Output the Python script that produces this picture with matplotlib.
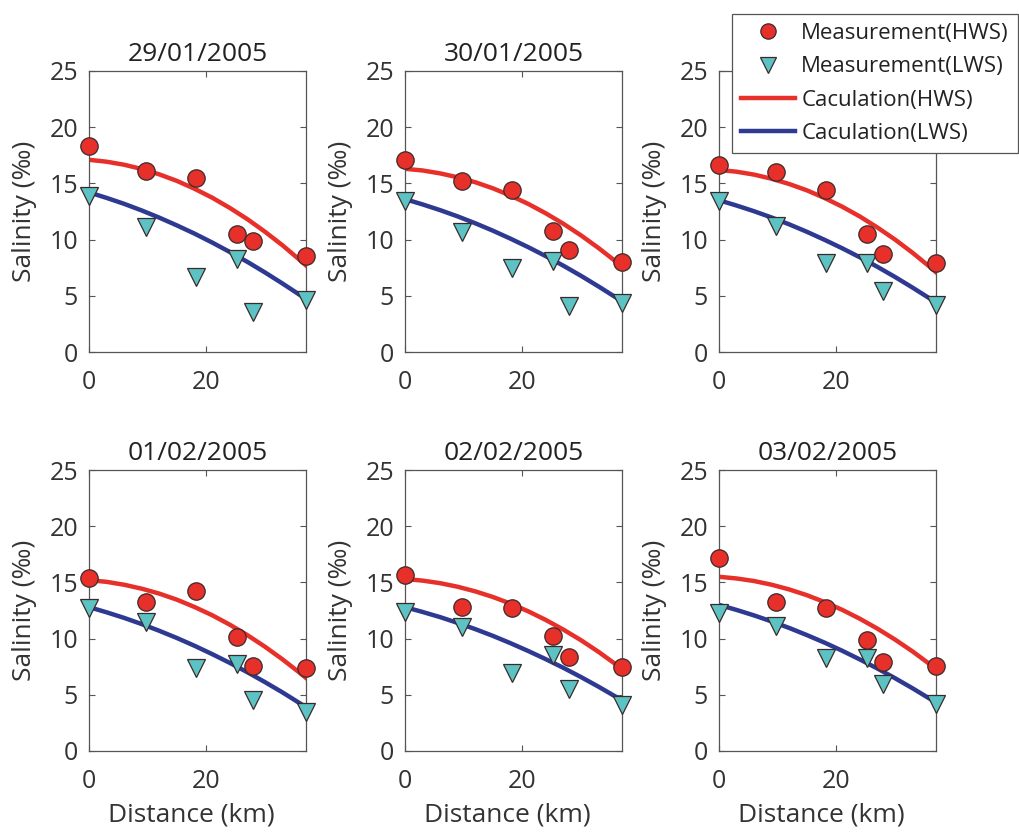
import matplotlib.pyplot as plt
from matplotlib.lines import Line2D

plt.rcParams['font.family'] = ['Open Sans', 'DejaVu Sans']

# third title (31/01/2005) sits under the legend in the original, so it is left out
dates = ["29/01/2005", "30/01/2005", "",
         "01/02/2005", "02/02/2005", "03/02/2005"]

# measurement stations (km)
station_km = [0, 9.8, 18.3, 25.2, 27.9, 37]

hws_meas = [
    [18.3, 16.1, 15.5, 10.5, 9.9, 8.5],
    [17.1, 15.2, 14.4, 10.8, 9.1, 8.0],
    [16.6, 16.0, 14.4, 10.5, 8.7, 7.9],
    [15.4, 13.3, 14.2, 10.1, 7.6, 7.4],
    [15.7, 12.8, 12.7, 10.2, 8.4, 7.5],
    [17.2, 13.3, 12.7, 9.9, 7.9, 7.6],
]
lws_meas = [
    [13.9, 11.1, 6.7, 8.3, 3.6, 4.6],
    [13.4, 10.7, 7.5, 8.1, 4.1, 4.4],
    [13.4, 11.2, 7.9, 7.9, 5.4, 4.2],
    [12.7, 11.5, 7.4, 7.7, 4.5, 3.5],
    [12.4, 11.0, 6.9, 8.5, 5.5, 4.1],
    [12.3, 11.1, 8.3, 8.3, 6.0, 4.2],
]

# calculated curves
calc_km = [0, 3, 6, 9, 12, 15, 18, 21, 24, 27, 30, 33, 36, 37]
hws_calc = [
    [17.1, 16.93, 16.66, 16.28, 15.80, 15.22, 14.52, 13.73, 12.82, 11.82, 10.70, 9.49, 8.16, 7.7],
    [16.3, 16.15, 15.89, 15.54, 15.10, 14.56, 13.91, 13.18, 12.34, 11.41, 10.38, 9.25, 8.03, 7.6],
    [16.2, 16.04, 15.78, 15.41, 14.94, 14.38, 13.70, 12.93, 12.06, 11.08, 10.01, 8.83, 7.55, 7.1],
    [15.2, 15.05, 14.79, 14.44, 14.00, 13.46, 12.81, 12.08, 11.24, 10.31, 9.28, 8.15, 6.93, 6.5],
    [15.3, 15.16, 14.93, 14.61, 14.20, 13.70, 13.11, 12.43, 11.66, 10.80, 9.86, 8.82, 7.69, 7.3],
    [15.5, 15.35, 15.12, 14.79, 14.37, 13.86, 13.25, 12.56, 11.77, 10.89, 9.92, 8.86, 7.70, 7.3],
]
lws_calc = [
    [14.2, 13.71, 13.18, 12.59, 11.95, 11.26, 10.53, 9.74, 8.90, 8.02, 7.08, 6.09, 5.06, 4.7],
    [13.6, 13.13, 12.62, 12.06, 11.45, 10.79, 10.08, 9.33, 8.53, 7.68, 6.78, 5.83, 4.84, 4.5],
    [13.5, 13.03, 12.52, 11.96, 11.35, 10.69, 9.98, 9.23, 8.43, 7.58, 6.68, 5.73, 4.74, 4.4],
    [12.8, 12.34, 11.84, 11.29, 10.69, 10.05, 9.36, 8.62, 7.84, 7.01, 6.13, 5.21, 4.23, 3.9],
    [12.8, 12.37, 11.91, 11.39, 10.84, 10.24, 9.59, 8.90, 8.17, 7.40, 6.58, 5.72, 4.81, 4.5],
    [13.0, 12.55, 12.06, 11.52, 10.94, 10.31, 9.64, 8.92, 8.15, 7.34, 6.48, 5.58, 4.63, 4.3],
]

RED = "#e8302a"
BLUE = "#2e3a92"
CYAN = "#5cc2c4"
EDGE = "#3a2a2a"
GREY = "#555555"

fig = plt.figure(figsize=(10.2, 8.33), dpi=100)

lefts = [89, 405, 719]
tops = [71, 470]
W, H = 217, 281

for i, date in enumerate(dates):
    r, c = divmod(i, 3)
    ax = fig.add_axes([lefts[c] / 1020, 1 - (tops[r] + H) / 833, W / 1020, H / 833])
    ax.plot(calc_km, hws_calc[i], color=RED, lw=3.2, zorder=2)
    ax.plot(calc_km, lws_calc[i], color=BLUE, lw=3.2, zorder=2)
    ax.plot(station_km, lws_meas[i], 'v', ms=13, mfc=CYAN, mec=EDGE, mew=0.9,
            clip_on=False, zorder=3)
    ax.plot(station_km, hws_meas[i], 'o', ms=12.5, mfc=RED, mec=EDGE, mew=0.9,
            clip_on=False, zorder=4)
    ax.set_xlim(0, 37)
    ax.set_ylim(0, 25)
    ax.set_xticks([0, 20])
    ax.set_yticks([0, 5, 10, 15, 20, 25])
    ax.tick_params(direction='in', top=True, right=True, length=4, width=0.8,
                   color=GREY, labelsize=18, labelcolor="#333333")
    ax.tick_params(axis='x', pad=13)
    ax.tick_params(axis='y', pad=8)
    for s in ax.spines.values():
        s.set_color(GREY)
        s.set_linewidth(0.9)
    if date:
        ax.set_title(date, fontsize=19, pad=7, color="#222222")
    ax.set_ylabel("Salinity (‰)", fontsize=19, color="#333333")
    ax.yaxis.set_label_coords(-0.24, 0.5)
    if r == 1:
        ax.set_xlabel("Distance (km)", fontsize=19, color="#333333")
        ax.xaxis.set_label_coords(0.47, -0.185)

handles = [
    Line2D([], [], ls='none', marker='o', ms=11, mfc=RED, mec=EDGE, mew=0.9),
    Line2D([], [], ls='none', marker='v', ms=11.5, mfc=CYAN, mec=EDGE, mew=0.9),
    Line2D([], [], color=RED, lw=3.2),
    Line2D([], [], color=BLUE, lw=3.2),
]
labels = ["Measurement(HWS)", "Measurement(LWS)", "Caculation(HWS)", "Caculation(LWS)"]
leg = fig.legend(handles, labels, loc='upper right', bbox_to_anchor=(1.0, 1 - 12 / 833),
                 fontsize=16, frameon=True, fancybox=False, framealpha=1,
                 edgecolor=GREY, handlelength=2.4, handletextpad=0.3,
                 labelspacing=0.55, borderpad=0.4, borderaxespad=0.1)
leg.get_frame().set_linewidth(0.9)
for t in leg.get_texts():
    t.set_color("#222222")

fig.savefig("out.png", dpi=100)
